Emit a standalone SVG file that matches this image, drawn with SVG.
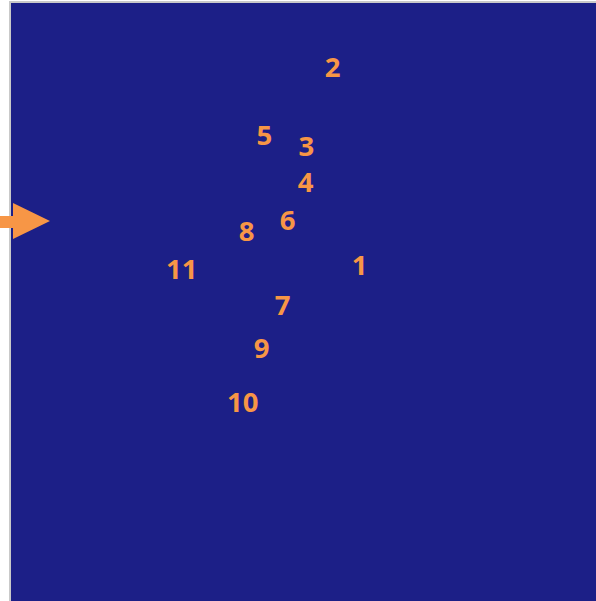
<svg xmlns="http://www.w3.org/2000/svg" width="596" height="601" viewBox="0 0 596 601">
  <style>
    .lbl { font-family: "Open Sans", "Liberation Sans", sans-serif; font-weight: 700; font-size: 27.5px; fill: #F79646; text-anchor: middle; }
  </style>
  <rect x="0" y="0" width="596" height="601" fill="#ffffff"/>
  <rect x="9" y="1" width="587" height="600" fill="#c9c9c9"/>
  <rect x="11" y="3" width="585" height="598" fill="#1C1F87"/>
  <g id="arrow">
    <polygon points="0,216 13,216 13,203 50,221 13,239 13,228 0,228" fill="#F79646"/>
  </g>
  <g id="connectors"></g>
  <g id="n1"><text class="lbl" x="359.7" y="274.5">1</text></g>
  <g id="n2"><text class="lbl" x="332.5" y="76.5">2</text></g>
  <g id="n3"><text class="lbl" x="306.3" y="155.5">3</text></g>
  <g id="n4"><text class="lbl" x="305.5" y="191.5">4</text></g>
  <g id="n5"><text class="lbl" x="264.3" y="144.5">5</text></g>
  <g id="n6"><text class="lbl" x="287.7" y="230">6</text></g>
  <g id="n7"><text class="lbl" x="282.5" y="315">7</text></g>
  <g id="n8"><text class="lbl" x="246.7" y="240.5">8</text></g>
  <g id="n9"><text class="lbl" x="261.5" y="357.5">9</text></g>
  <g id="n10"><text class="lbl" x="242.8" y="411.5">10</text></g>
  <g id="n11"><text class="lbl" x="181.7" y="279">11</text></g>
</svg>
